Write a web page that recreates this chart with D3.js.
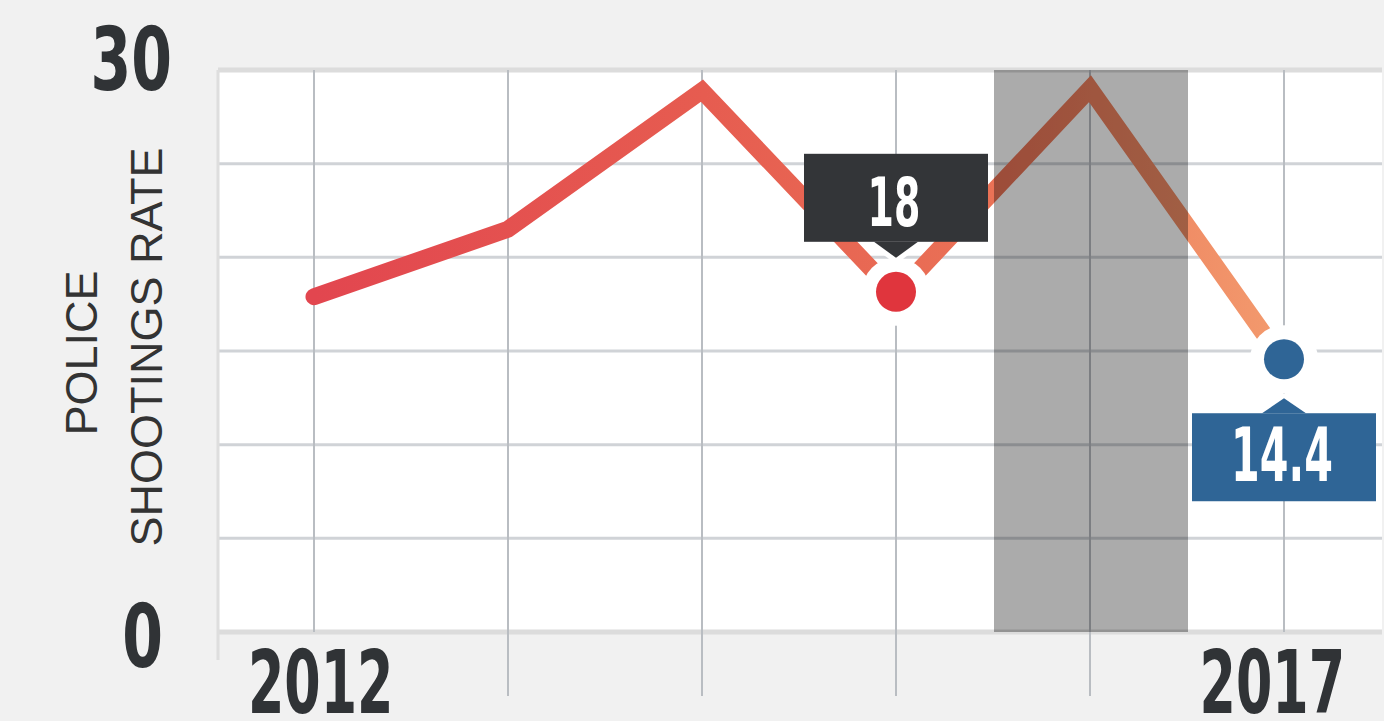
<!DOCTYPE html>
<html>
<head>
<meta charset="utf-8">
<script src="https://cdn.jsdelivr.net/npm/d3@7"></script>
<style>
  html, body { margin: 0; padding: 0; background: #f1f1f1; }
  svg { display: block; }
  .cond { font-family: "Liberation Sans Narrow", "DejaVu Sans Condensed", "Roboto", sans-serif; font-weight: bold; }
</style>
</head>
<body>
<svg id="chart" width="1384" height="721"></svg>
<script>
// ---- data ----
const years = [2012, 2013, 2014, 2015, 2016, 2017];
const rates = [17.9, 21.5, 28.9, 18, 29.0, 14.4];
const yTickValues = [0, 30];
const yGridValues = [0, 5, 10, 15, 20, 25, 30];
const xTickLabels = ["2012", "", "", "", "", "2017"];
const highlightYear = 2016;
const callouts = [
  { year: 2015, value: 18, label: "18", color: "#333538", dot: "#e0353d", pos: "above" },
  { year: 2017, value: 14.4, label: "14.4", color: "#2f6596", dot: "#2f6596", pos: "below" }
];
const yTitle = ["POLICE", "SHOOTINGS RATE"];

// ---- layout ----
const W = 1384, H = 721;
const plot = { left: 218, right: 1382, top: 70, bottom: 632 };
const svg = d3.select("#chart");

const x = d3.scaleLinear().domain([2011.5, 2017.5]).range([plot.left, plot.right]);
const y = d3.scaleLinear().domain([0, 30]).range([plot.bottom, plot.top]);

svg.append("rect").attr("width", W).attr("height", H).attr("fill", "#f1f1f1");
svg.append("rect")
  .attr("x", plot.left).attr("y", plot.top)
  .attr("width", plot.right - plot.left).attr("height", plot.bottom - plot.top)
  .attr("fill", "#ffffff");

// horizontal grid
svg.append("g").selectAll("line").data(yGridValues).join("line")
  .attr("x1", plot.left).attr("x2", plot.right)
  .attr("y1", d => y(d)).attr("y2", d => y(d))
  .attr("stroke", d => (d === 0 || d === 30) ? "#dcdcdc" : "#d0d3d7")
  .attr("stroke-width", d => (d === 0 || d === 30) ? 5 : 3);

// left edge tick
svg.append("line")
  .attr("x1", plot.left).attr("x2", plot.left)
  .attr("y1", plot.top).attr("y2", plot.bottom + 28)
  .attr("stroke", "#dedede").attr("stroke-width", 3);

// vertical grid
svg.append("g").selectAll("line").data(years).join("line")
  .attr("x1", d => x(d) - 1).attr("x2", d => x(d) - 1)
  .attr("y1", plot.top)
  .attr("y2", (d, i) => xTickLabels[i] ? plot.bottom : plot.bottom + 64)
  .attr("stroke", "#b9bdc2").attr("stroke-width", 2);

// gradient for line
const defs = svg.append("defs");
const grad = defs.append("linearGradient").attr("id", "lineGrad")
  .attr("gradientUnits", "userSpaceOnUse")
  .attr("x1", x(years[0])).attr("x2", x(years[years.length - 1]))
  .attr("y1", 0).attr("y2", 0);
grad.append("stop").attr("offset", "0%").attr("stop-color", "#e2464f");
grad.append("stop").attr("offset", "40%").attr("stop-color", "#e65c50");
grad.append("stop").attr("offset", "70%").attr("stop-color", "#ea7256");
grad.append("stop").attr("offset", "100%").attr("stop-color", "#f39b6e");

const pts = years.map((yr, i) => [yr, rates[i]]);
const line = d3.line().x(d => x(d[0]) - 1).y(d => y(d[1]));
svg.append("path").datum(pts)
  .attr("d", line)
  .attr("fill", "none")
  .attr("stroke", "url(#lineGrad)")
  .attr("stroke-width", 17)
  .attr("stroke-linecap", "round")
  .attr("stroke-linejoin", "miter");

// highlight band
svg.append("rect")
  .attr("x", x(highlightYear - 0.5)).attr("y", plot.top)
  .attr("width", x(highlightYear + 0.5) - x(highlightYear - 0.5))
  .attr("height", plot.bottom - plot.top)
  .attr("fill", "#000").attr("fill-opacity", 0.33);

// helper: horizontally condensed text
function condText(g, tx, ty, sx, size, anchor, fill, str) {
  return g.append("text").attr("class", "cond")
    .attr("transform", `translate(${tx},${ty}) scale(${sx},1)`)
    .attr("text-anchor", anchor)
    .attr("font-size", size)
    .attr("fill", fill)
    .text(str);
}

// y tick labels
const yAxisG = svg.append("g");
yTickValues.forEach(v => {
  condText(yAxisG, v === 30 ? 172 : 163, v === 30 ? y(v) + 20 : y(v) + 35, 0.74, 88, "end", "#303336", v);
});

// x tick labels
const xAxisG = svg.append("g");
years.forEach((yr, i) => {
  if (!xTickLabels[i]) return;
  if (i === 0) condText(xAxisG, x(yr) - 67, 713, 0.66, 88, "start", "#303336", xTickLabels[i]);
  else condText(xAxisG, x(yr) + 60, 713, 0.66, 88, "end", "#303336", xTickLabels[i]);
});

// y title
const tg = svg.append("g");
tg.append("text").attr("transform", `translate(97,353) rotate(-90)`)
  .attr("text-anchor", "middle")
  .attr("font-family", "Liberation Sans, Arial, sans-serif")
  .attr("font-size", 45).attr("fill", "#333")
  .text(yTitle[0]);
tg.append("text").attr("transform", `translate(162,347) rotate(-90)`)
  .attr("text-anchor", "middle")
  .attr("font-family", "Liberation Sans, Arial, sans-serif")
  .attr("font-size", 45).attr("fill", "#333")
  .text(yTitle[1]);

// callouts
const boxW = 184, boxH = 88;
callouts.forEach(c => {
  const cx = x(c.year) - 1, cy = y(c.value) - 3;
  const g = svg.append("g");
  g.append("circle").attr("cx", cx).attr("cy", cy).attr("r", 34).attr("fill", "#fff");
  let boxY, tipY, baseY;
  if (c.pos === "above") {
    boxY = cy - 50 - boxH; baseY = cy - 50; tipY = cy - 34;
  } else {
    boxY = cy + 54; baseY = cy + 54; tipY = cy + 39;
  }
  const tri = `M${cx - 22},${baseY} L${cx},${tipY} L${cx + 22},${baseY} Z`;
  g.append("path").attr("d", tri).attr("fill", "#fff").attr("stroke", "#fff").attr("stroke-width", 10).attr("stroke-linejoin", "round");
  g.append("path").attr("d", tri).attr("fill", c.color);
  g.append("rect").attr("x", cx - boxW / 2).attr("y", boxY)
    .attr("width", boxW).attr("height", boxH).attr("fill", c.color);
  g.append("circle").attr("cx", cx).attr("cy", cy).attr("r", 20).attr("fill", c.dot);
  condText(g, cx - 2, boxY + (c.pos === "above" ? 72 : 68), 0.62,
    c.pos === "above" ? 68 : 74, "middle", "#fff", c.label);
});
</script>
</body>
</html>
